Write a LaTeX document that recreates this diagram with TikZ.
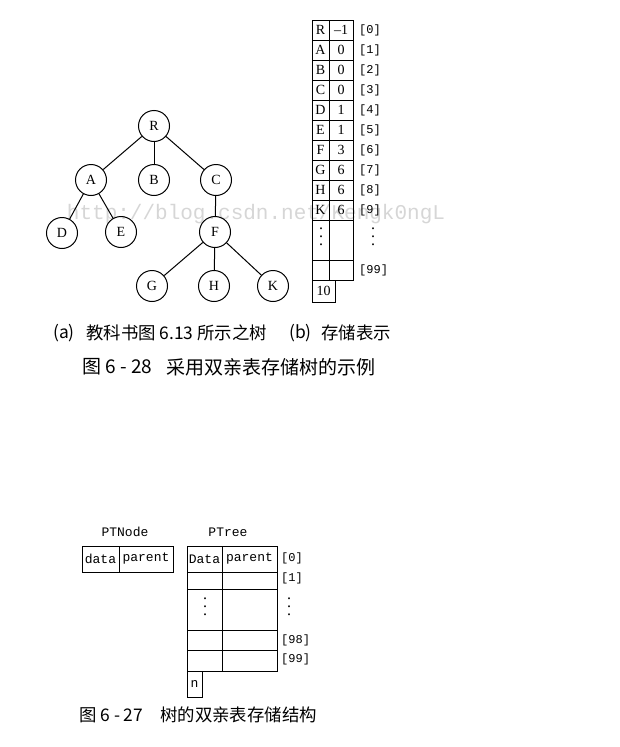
\documentclass[tikz,border=0pt]{standalone}
\usepackage{fontspec}
\setmainfont{Liberation Serif}
\setmonofont{Liberation Mono}
\newfontfamily\cjk{Noto Sans CJK SC}
\newcommand\tabdots{\vbox{\fontsize{16}{16}\selectfont\baselineskip8pt\lineskiplimit0pt\hbox{.}\hbox{.}\hbox{.}}}
\tikzset{
  vertex/.style={circle,draw,line width=1pt,minimum size=31pt,inner sep=0pt,font=\fontsize{14}{14}\selectfont},
  cell/.style={inner sep=0pt,font=\fontsize{14}{14}\selectfont},
  field/.style={inner sep=0pt,font=\ttfamily\fontsize{13}{13}\selectfont},
  idx/.style={inner sep=0pt,anchor=west,font=\ttfamily\fontsize{12}{12}\selectfont},
  grid/.style={line width=1pt},
}
\begin{document}
\begin{tikzpicture}[x=1pt,y=-1pt]
\useasboundingbox (0,0) rectangle (620,747);
% watermark
\node[inner sep=0pt,text=black!16,font=\ttfamily\fontsize{21}{21}\selectfont] (mark) at (256,214) {http://blog.csdn.net/Kengk0ngL};
% tree
\node[vertex] (R) at (154,126) {R};
\node[vertex] (A) at (91,180) {A};
\node[vertex] (B) at (154,180) {B};
\node[vertex] (C) at (216,180) {C};
\node[vertex] (D) at (62,233) {D};
\node[vertex] (E) at (121,232) {E};
\node[vertex] (F) at (215,232) {F};
\node[vertex] (G) at (152,286) {G};
\node[vertex] (H) at (214,286) {H};
\node[vertex] (K) at (273,286) {K};
\foreach \a/\b in {R/A,R/B,R/C,A/D,A/E,C/F,F/G,F/H,F/K}
  \draw[grid] (\a) -- (\b);
% parent table
\draw[grid] (312,20) rectangle (353,280);
\draw[grid] (329,20) -- (329,280);
\foreach \y in {40,60,...,220}
  \draw[grid] (312,\y) -- (353,\y);
\draw[grid] (312,260) -- (353,260);
\draw[grid] (312,280) rectangle (335,302);
\foreach \t/\p [count=\i from 0] in {R/--1,A/0,B/0,C/0,D/1,E/1,F/3,G/6,H/6,K/6} {
  \node[cell] (t\i) at (320.5,{30+20*\i}) {\t};
  \node[cell] (p\i) at (341,{30+20*\i}) {\p};
  \node[idx] (i\i) at (359,{30+20*\i}) {[\i]};
}
\node[cell] (tdots) at (321,237) {\tabdots};
\node[cell] (idots) at (373,237) {\tabdots};
\node[idx] (i99) at (359,270) {[99]};
\node[cell] (count) at (323.5,291) {10};
% captions
\node[inner sep=0pt,anchor=west,font=\cjk\fontsize{17.4}{17.4}\selectfont] (capa) at (53,333) {(a)};
\node[inner sep=0pt,anchor=west,font=\cjk\fontsize{17.4}{17.4}\selectfont] (capatext) at (86,333) {教科书图 6.13 所示之树};
\node[inner sep=0pt,anchor=west,font=\cjk\fontsize{17.4}{17.4}\selectfont] (capb) at (289,333) {(b)};
\node[inner sep=0pt,anchor=west,font=\cjk\fontsize{17.4}{17.4}\selectfont] (capbtext) at (321,333) {存储表示};
\node[inner sep=0pt,anchor=west,font=\cjk\fontsize{19}{19}\selectfont] (fig28) at (82,367) {图 6 - 28};
\node[inner sep=0pt,anchor=west,font=\cjk\fontsize{19}{19}\selectfont] (fig28text) at (166,367) {采用双亲表存储树的示例};
% node type
\node[field] (ptnode) at (125,532) {PTNode};
\draw[grid] (82,546) rectangle (173,572);
\draw[grid] (119,546) -- (119,572);
\node[field] (fdata) at (100.5,559) {data};
\node[field] (fparent) at (146,559) {parent};
% tree type
\node[field] (ptree) at (228,532) {PTree};
\draw[grid] (187,546) rectangle (277,671);
\draw[grid] (222,546) -- (222,671);
\foreach \y in {572,589,630,650}
  \draw[grid] (187,\y) -- (277,\y);
\draw[grid] (187,671) rectangle (202,697);
\node[field] (hdata) at (204.5,559) {Data};
\node[field] (hparent) at (249.5,559) {parent};
\node[cell] (hdots) at (205,607) {\tabdots};
\node[idx] (j0) at (281,558) {[0]};
\node[idx] (j1) at (281,578) {[1]};
\node[cell] (jdots) at (289,607) {\tabdots};
\node[idx] (j98) at (281,640) {[98]};
\node[idx] (j99) at (281,659) {[99]};
\node[field] (hn) at (194.5,684) {n};
% caption
\node[inner sep=0pt,anchor=west,font=\cjk\fontsize{17.4}{17.4}\selectfont] (fig27) at (79,715) {图 6 - 27};
\node[inner sep=0pt,anchor=west,font=\cjk\fontsize{17.4}{17.4}\selectfont] (fig27text) at (160,715) {树的双亲表存储结构};
\end{tikzpicture}
\end{document}
